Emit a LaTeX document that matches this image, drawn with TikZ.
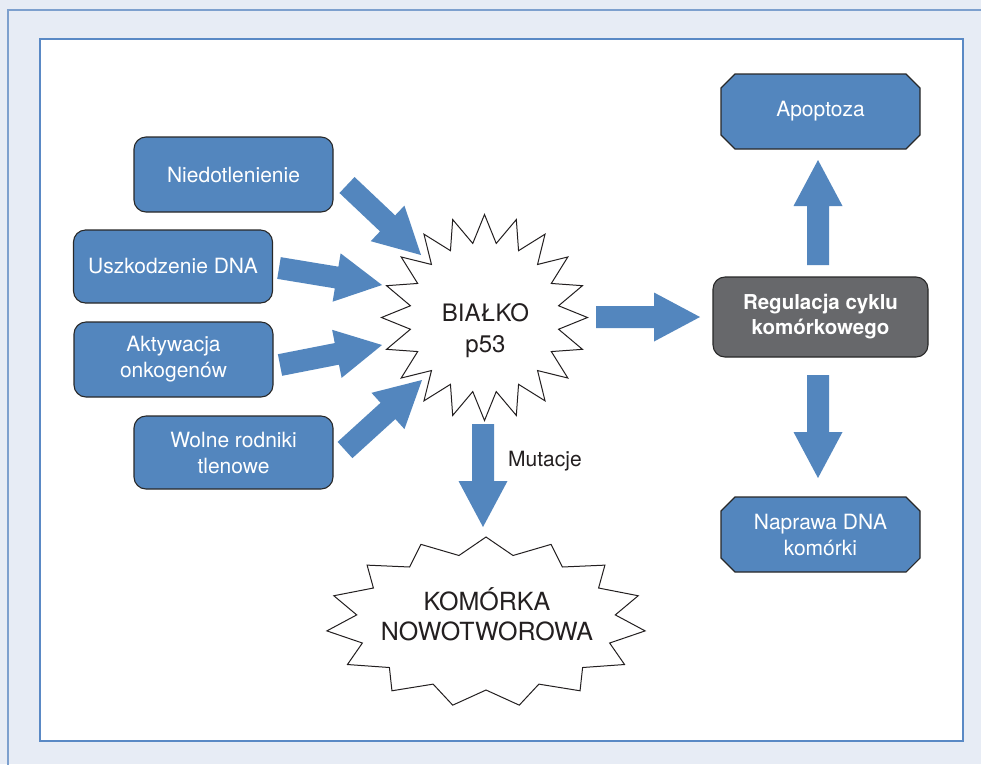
\documentclass[tikz,border=0pt]{standalone}
\usepackage{fontspec}
\setmainfont{TeX Gyre Heros}
\usetikzlibrary{calc}
\definecolor{bg}{RGB}{231,236,245}
\definecolor{frameblue}{RGB}{125,160,206}
\definecolor{innerblue}{RGB}{90,137,197}
\definecolor{boxblue}{RGB}{83,134,190}
\definecolor{boxgray}{RGB}{103,104,107}
\definecolor{edgecol}{RGB}{40,40,40}
\definecolor{ink}{RGB}{35,31,32}
\newcommand\blockarrow[2]{%
  \coordinate (tmpB) at ($(#2)!46pt!(#1)$);
  \fill[boxblue] ($(#1)!11pt!90:(#2)$) -- ($(tmpB)!11pt!90:(#2)$) -- ($(tmpB)!24.5pt!90:(#2)$) -- (#2)
    -- ($(tmpB)!24.5pt!-90:(#2)$) -- ($(tmpB)!11pt!-90:(#2)$) -- ($(#1)!11pt!-90:(#2)$) -- cycle;}
% chamfered box: name, centre, text
\newcommand\chamnode[3]{%
  \coordinate (#1c) at #2;
  \draw[chamline] ($(#1c)+(-85.5,-37.5)$) -- ($(#1c)+(85.5,-37.5)$) -- ($(#1c)+(99.5,-23.5)$)
    -- ($(#1c)+(99.5,23.5)$) -- ($(#1c)+(85.5,37.5)$) -- ($(#1c)+(-85.5,37.5)$)
    -- ($(#1c)+(-99.5,23.5)$) -- ($(#1c)+(-99.5,-23.5)$) -- cycle;
  \node[boxtext,minimum width=199pt,minimum height=75pt] (#1) at (#1c) {#3};}
\begin{document}
\begin{tikzpicture}[x=1pt,y=-1pt,
  boxtext/.style={text=white,align=center,font=\fontsize{21}{26}\selectfont,inner sep=0pt},
  bluebox/.style={boxtext,draw=edgecol,line width=1.1pt,fill=boxblue,rounded corners=12pt,minimum width=199pt,minimum height=75pt},
  chamline/.style={draw=edgecol,line width=1.1pt,fill=boxblue},
  graybox/.style={draw=edgecol,line width=1.1pt,fill=boxgray,rounded corners=12pt,minimum width=215pt,minimum height=80pt,text=white,align=center,font=\fontsize{20.5}{25}\selectfont\bfseries,inner sep=0pt},
  starline/.style={draw=ink,line width=1pt,fill=white},
  startext/.style={text=ink,align=center,inner sep=0pt}]
\useasboundingbox (0,0) rectangle (981,764);
\fill[bg] (0,0) rectangle (981,764);
\draw[frameblue,line width=1.6pt] (8,770) -- (8,10) -- (990,10);
\draw[innerblue,line width=1.5pt,fill=white] (40,39) rectangle (963,741);
% left boxes
\node[bluebox] (niedo) at (233.5,174.5) {Niedotlenienie};
\node[bluebox,minimum height=73pt] (uszk) at (173,266.5) {Uszkodzenie DNA};
\node[bluebox] (akt) at (173.5,359.5) {Aktywacja\\onkogenów};
\node[bluebox,minimum height=73pt] (wolne) at (233.5,452.5) {Wolne rodniki\\tlenowe};
% right boxes
\chamnode{apo}{(820.5,111.5)}{Apoptoza}
\node[graybox] (reg) at (820.5,317) {Regulacja cyklu\\komórkowego};
\chamnode{napr}{(820.5,534.5)}{Naprawa DNA\\komórki}
% stars
\draw[starline] plot[samples at={0,1,...,39}, variable=\k]
  ({484.5+(mod(\k,2)==0?103:75)*cos(90+9*\k)}, {317.5-(mod(\k,2)==0?103:75)*sin(90+9*\k)}) -- cycle;
\node[startext,font=\fontsize{24}{31}\selectfont] (p53) at (485.5,331) {BIAŁKO\\p53};
\draw[starline] plot[samples at={0,1,...,29}, variable=\k]
  ({486+(mod(\k,2)==0?160:130)*cos(90+12*\k)}, {622-(mod(\k,2)==0?85:68)*sin(90+12*\k)}) -- cycle;
\node[startext,font=\fontsize{25}{30}\selectfont] (kom) at (487,614.5) {KOMÓRKA\\NOWOTWOROWA};
% arrows
\coordinate (a1t) at (347,185); \coordinate (a1h) at (421,255);
\coordinate (a2t) at (279,268); \coordinate (a2h) at (382,285);
\coordinate (a3t) at (280,365); \coordinate (a3h) at (382,345);
\coordinate (a4t) at (345,450); \coordinate (a4h) at (422,380);
\coordinate (a5t) at (596,317); \coordinate (a5h) at (700,317);
\coordinate (a6t) at (483,424); \coordinate (a6h) at (483,527);
\coordinate (a7t) at (818,265); \coordinate (a7h) at (818,160);
\coordinate (a8t) at (818,375); \coordinate (a8h) at (818,478);
\blockarrow{a1t}{a1h}
\blockarrow{a2t}{a2h}
\blockarrow{a3t}{a3h}
\blockarrow{a4t}{a4h}
\blockarrow{a5t}{a5h}
\blockarrow{a6t}{a6h}
\blockarrow{a7t}{a7h}
\blockarrow{a8t}{a8h}
\node[text=ink,font=\fontsize{21}{26}\selectfont,inner sep=0pt,anchor=base west] (mut) at (508,466) {Mutacje};
\end{tikzpicture}
\end{document}
